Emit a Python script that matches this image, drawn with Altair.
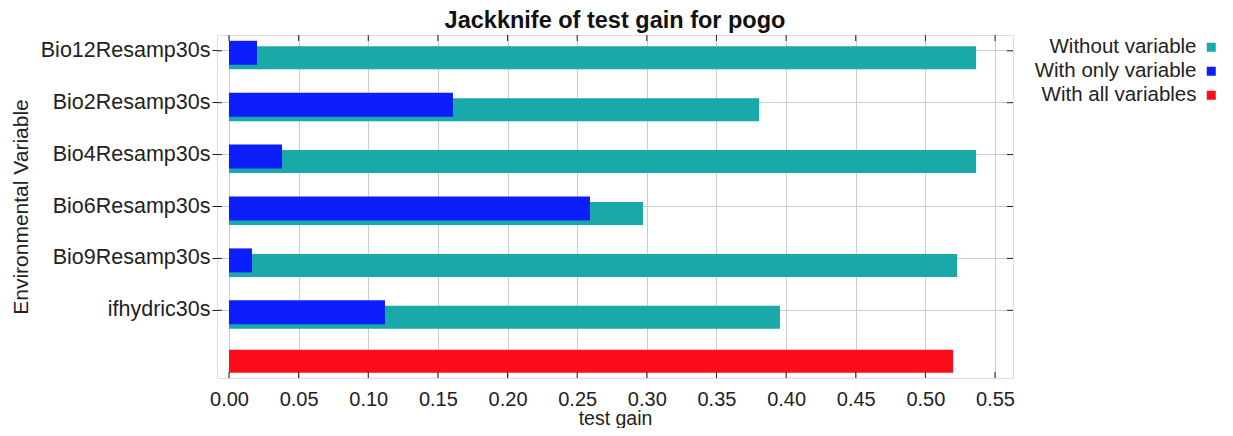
import altair as alt
import pandas as pd

variables = ["Bio12Resamp30s", "Bio2Resamp30s", "Bio4Resamp30s",
             "Bio6Resamp30s", "Bio9Resamp30s", "ifhydric30s"]
without_gain = [0.5364, 0.3806, 0.5364, 0.2973, 0.5227, 0.3956]
only_gain = [0.0201, 0.1608, 0.0381, 0.2592, 0.0165, 0.1120]
all_label = "All"
all_gain = [0.5199]
series = ["Without variable", "With only variable", "With all variables"]
colors = ["#1aa9a9", "#0d1efc", "#fd0d1c"]
xticks = [0.0, 0.05, 0.1, 0.15, 0.2, 0.25, 0.3, 0.35, 0.4, 0.45, 0.5, 0.55]

W, H = 796, 343
FONT = "Liberation Sans"
ydomain = variables + [all_label]

df_without = pd.DataFrame({"var": variables, "gain": without_gain, "series": series[0]})
df_only = pd.DataFrame({"var": variables, "gain": only_gain, "series": series[1]})
df_all = pd.DataFrame({"var": [all_label], "gain": all_gain, "series": series[2]})
df_xt = pd.DataFrame({"gain": xticks})
df_yt = pd.DataFrame({"var": variables})

xscale = alt.Scale(domain=[-0.0086, 0.5629], nice=False, zero=False)
yscale = alt.Scale(domain=ydomain, paddingInner=0.391, paddingOuter=0)
cscale = alt.Scale(domain=series, range=colors)

xaxis = alt.Axis(values=xticks, format=".2f", title="test gain", grid=True,
                 gridColor="#cccccc", gridWidth=1, ticks=False, domain=False,
                 labelFontSize=20, labelFont=FONT, labelColor="#222222",
                 labelPadding=11, titleFontSize=19.5, titleFont=FONT,
                 titleFontWeight="normal", titleColor="#222222",
                 titlePadding=0, labelFlush=False)
yaxis = alt.Axis(values=variables, title="Environmental Variable", grid=True,
                 gridColor="#cccccc", gridWidth=1, ticks=True, tickSize=5,
                 tickColor="#222222", domain=False, bandPosition=0.5,
                 labelFontSize=21.5, labelFont=FONT, labelColor="#222222",
                 labelPadding=2, titleFontSize=21, titleFont=FONT,
                 titleFontWeight="normal", titleColor="#222222", titlePadding=9)

legend = alt.Legend(title=None, orient="none", legendX=984, legendY=2,
                    labelAlign="right", labelOffset={"expr": "-25"}, symbolType="square",
                    symbolSize=81, symbolStrokeWidth=0, labelFontSize=20.5,
                    labelFont=FONT, labelColor="#222222", rowPadding=3, labelLimit=400)

X = alt.X("gain:Q", scale=xscale, axis=xaxis)
Y = alt.Y("var:N", scale=yscale, sort=None, axis=yaxis)

def bars(df, height, yoff, show_legend=False):
    return alt.Chart(df).mark_bar(height=height, yOffset=yoff, opacity=1).encode(
        x=X, y=Y,
        color=alt.Color("series:N", scale=cscale, legend=legend if show_legend else None),
    )

cyan = bars(df_without, 23, 7, show_legend=True)
blue = bars(df_only, 24, 2)
red = bars(df_all, 23, -1)

tick_col = "#222222"
bottom_ticks = alt.Chart(df_xt).mark_rule(color=tick_col, strokeWidth=1).encode(
    x=X, y=alt.value(H), y2=alt.value(H - 6))
top_ticks = alt.Chart(df_xt).mark_rule(color=tick_col, strokeWidth=1).encode(
    x=X, y=alt.value(0), y2=alt.value(6))
left_ticks = alt.Chart(df_yt).mark_rule(color=tick_col, strokeWidth=1).encode(
    y=Y, x=alt.value(0), x2=alt.value(5))
right_ticks = alt.Chart(df_yt).mark_rule(color=tick_col, strokeWidth=1).encode(
    y=Y, x=alt.value(W), x2=alt.value(W - 6))

chart = alt.layer(cyan, blue, red, bottom_ticks, top_ticks, left_ticks, right_ticks).properties(
    width=W, height=H,
    title=alt.TitleParams("Jackknife of test gain for pogo", fontSize=23.5,
                          font=FONT, fontWeight="bold", color="#111111",
                          anchor="middle", offset=2),
    autosize=alt.AutoSizeParams(type="none"),
    padding={"left": 209, "top": 27, "right": 208, "bottom": 50},
).configure_view(stroke="#222222", strokeWidth=1.2).configure(background="white")

chart.save("out.html", embed_options={"renderer": "svg", "actions": False})
